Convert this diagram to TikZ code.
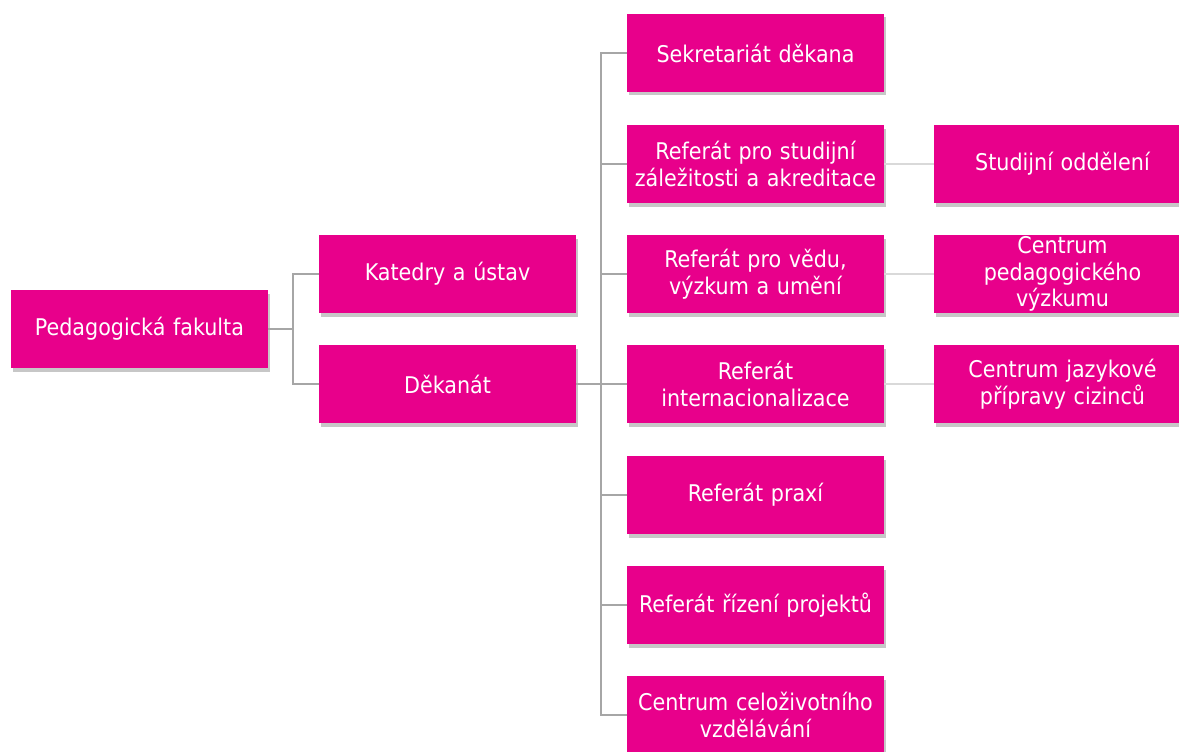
\documentclass[tikz,border=0pt]{standalone}
\usepackage{fontspec}
\setmainfont{DejaVu Sans Condensed}
\usetikzlibrary{shadows}
\definecolor{pink}{RGB}{232,0,139}
\definecolor{conn}{RGB}{166,166,166}
\definecolor{connlight}{RGB}{217,217,217}
\tikzset{
  box/.style={rectangle, fill=pink, text=white, minimum width=257pt, minimum height=78pt,
    inner sep=0pt, text width=252pt, align=center,
    font=\fontsize{23pt}{26.5pt}\selectfont,
    drop shadow={shadow xshift=2pt, shadow yshift=-3.5pt, opacity=0.22, fill=black}},
  wire/.style={draw=conn, line width=2.5pt},
  wirelight/.style={draw=connlight, line width=2.5pt}
}
\begin{document}
\begin{tikzpicture}[x=1pt,y=-1pt]
\useasboundingbox (0,0) rectangle (1179,752);
% level 1
\node[box] (pf) at (139.5,329) {Pedagogická fakulta};
% level 2
\node[box] (kat) at (447.5,274) {Katedry a ústav};
\node[box] (dek) at (447.5,384) {Děkanát};
% level 3
\node[box] (sek) at (755.5,53) {Sekretariát děkana};
\node[box] (stu) at (755.5,164) {Referát pro studijní\\záležitosti a akreditace};
\node[box] (ved) at (755.5,274) {Referát pro vědu,\\výzkum a umění};
\node[box] (int) at (755.5,384) {Referát\\internacionalizace};
\node[box] (pra) at (755.5,495) {Referát praxí};
\node[box] (pro) at (755.5,605) {Referát řízení projektů};
\node[box] (czv) at (755.5,715) {Centrum celoživotního\\vzdělávání};
% level 4
\node[box] (odd) at (1062.5,164) {Studijní oddělení};
\node[box] (cpv) at (1062.5,274) {Centrum\\pedagogického\\výzkumu};
\node[box] (cjp) at (1062.5,384) {Centrum jazykové\\přípravy cizinců};
% connectors level 1-2
\coordinate (j1) at (293,329);
\draw[wire] (pf.east) -- (j1);
\draw[wire] (j1) |- (kat.west);
\draw[wire] (j1) |- (dek.west);
% connectors level 2-3
\coordinate (j2) at (601,384);
\draw[wire] (dek.east) -- (j2);
\foreach \n in {sek,stu,ved,int,pra,pro,czv}{
  \draw[wire] (j2) |- (\n.west);
}
% connectors level 3-4
\draw[wirelight] (stu.east) -- (odd.west);
\draw[wirelight] (ved.east) -- (cpv.west);
\draw[wirelight] (int.east) -- (cjp.west);
\end{tikzpicture}
\end{document}
